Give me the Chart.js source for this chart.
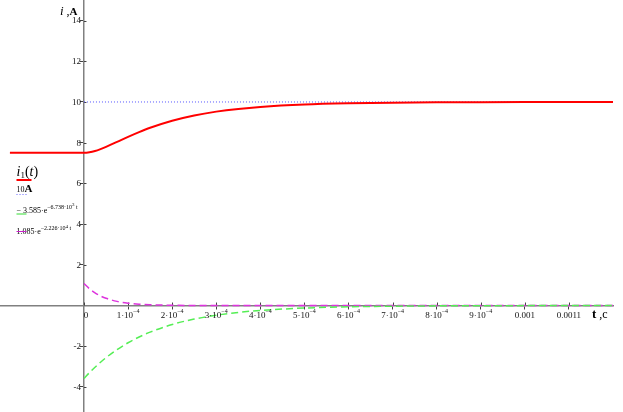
<!DOCTYPE html>
<html>
<head>
<meta charset="utf-8">
<script src="https://cdn.jsdelivr.net/npm/chart.js@4.4.1/dist/chart.umd.min.js"></script>
<style>
  body { margin: 0; background: #fff; }
  #wrap { position: relative; width: 623px; height: 412px; }
</style>
</head>
<body>
<div id="wrap"><canvas id="chart"></canvas></div>
<script>
// time, s (t >= 0)
const tValues = [0, 0.125e-4, 0.25e-4, 0.375e-4, 0.5e-4, 0.75e-4, 1e-4, 1.25e-4, 1.5e-4, 2e-4, 2.5e-4,
  3e-4, 3.5e-4, 4e-4, 5e-4, 6e-4, 7e-4, 8e-4, 9e-4, 10e-4, 11e-4, 12e-4];

// i1(t), A  (first point is before switching)
const redT = [-1.68e-4].concat(tValues);
const redValues = [7.5, 7.5, 7.527, 7.591, 7.686, 7.797, 8.041, 8.289, 8.522, 8.734, 9.081, 9.339,
  9.526, 9.661, 9.758, 9.877, 9.937, 9.968, 9.984, 9.992, 9.996, 9.998, 9.999];

// -3.585 e^(-6.738e3 t)
const greenValues = [-3.585, -3.295, -3.031, -2.785, -2.560, -2.163, -1.828, -1.545, -1.305, -0.932, -0.665,
  -0.475, -0.339, -0.242, -0.123, -0.063, -0.032, -0.016, -0.008, -0.004, -0.002, -0.001];

// 1.085 e^(-2.226e4 t)
const magentaValues = [1.085, 0.822, 0.622, 0.471, 0.357, 0.204, 0.117, 0.067, 0.0385, 0.0127, 0.0042,
  0.0014, 0.0004, 0.0001, 0, 0, 0, 0, 0, 0, 0, 0];

// steady value 10 A
const blueT = [0, 12e-4];
const blueValues = [10, 10];

const xTickValues = [0, 1e-4, 2e-4, 3e-4, 4e-4, 5e-4, 6e-4, 7e-4, 8e-4, 9e-4, 10e-4, 11e-4];
const xTickLabels = ['0', '1·10^−4', '2·10^−4', '3·10^−4', '4·10^−4', '5·10^−4', '6·10^−4',
  '7·10^−4', '8·10^−4', '9·10^−4', '0.001', '0.0011'];
const yTickValues = [-4, -2, 2, 4, 6, 8, 10, 12, 14];
const yTickLabels = ['-4', '-2', '2', '4', '6', '8', '10', '12', '14'];

const SERIF = '"Liberation Serif", "DejaVu Serif", serif';

const toPoints = (xs, ys) => xs.map((x, i) => ({ x: x, y: ys[i] }));

// draw a row of text pieces with their own font and vertical offset
function drawRuns(ctx, x, y, runs) {
  runs.forEach(r => {
    ctx.font = r.font;
    ctx.fillText(r.text, x, y + (r.dy || 0));
    x += ctx.measureText(r.text).width;
  });
  return x;
}

function runsWidth(ctx, runs) {
  let w = 0;
  runs.forEach(r => { ctx.font = r.font; w += ctx.measureText(r.text).width; });
  return w;
}

const textPlugin = {
  id: 'mathcadText',
  beforeDatasetsDraw(chart) {
    // the other half of each tick mark, so they cross the axis like in Mathcad
    const ctx = chart.ctx;
    const xs = chart.scales.x;
    const ys = chart.scales.y;
    const y0 = ys.getPixelForValue(0);
    const x0 = xs.getPixelForValue(0);
    ctx.save();
    ctx.strokeStyle = '#444';
    ctx.lineWidth = 1;
    ctx.beginPath();
    xTickValues.forEach(v => {
      const px = Math.round(xs.getPixelForValue(v)) + 0.5;
      ctx.moveTo(px, y0 - 3);
      ctx.lineTo(px, y0);
    });
    yTickValues.forEach(v => {
      const py = Math.round(ys.getPixelForValue(v)) + 0.5;
      ctx.moveTo(x0, py);
      ctx.lineTo(x0 + 2.5, py);
    });
    ctx.stroke();
    ctx.restore();
  },
  afterDraw(chart) {
    const ctx = chart.ctx;
    const xs = chart.scales.x;
    const ys = chart.scales.y;
    const y0 = ys.getPixelForValue(0);
    const x0 = xs.getPixelForValue(0);
    ctx.save();
    ctx.fillStyle = '#111';

    // y tick labels
    ctx.font = '9px ' + SERIF;
    ctx.textAlign = 'right';
    ctx.textBaseline = 'middle';
    yTickValues.forEach((v, i) => {
      ctx.fillText(yTickLabels[i], x0 - 3, ys.getPixelForValue(v) + 0.5);
    });

    // x tick labels (with superscripts)
    ctx.textAlign = 'left';
    ctx.textBaseline = 'alphabetic';
    xTickValues.forEach((v, i) => {
      const parts = xTickLabels[i].split('^');
      const runs = [{ text: parts[0], font: '9px ' + SERIF }];
      if (parts[1]) runs.push({ text: parts[1], font: '6px ' + SERIF, dy: -5 });
      const w = runsWidth(ctx, runs);
      let px = xs.getPixelForValue(v) - w / 2;
      if (v === 0) px += 2;
      drawRuns(ctx, px, y0 + 12, runs);
    });

    // axis names
    ctx.fillStyle = '#000';
    drawRuns(ctx, 60, 15, [
      { text: 'i', font: 'italic 13px ' + SERIF },
      { text: ' ,', font: '12px ' + SERIF },
      { text: 'A', font: 'bold 11px ' + SERIF }
    ]);
    drawRuns(ctx, 592, 318, [
      { text: 't', font: 'bold 13px ' + SERIF },
      { text: ' ,c', font: '12px ' + SERIF }
    ]);

    // legend on the left
    drawRuns(ctx, 16.5, 175.5, [
      { text: 'i', font: 'italic 14px ' + SERIF },
      { text: '1', font: '9px ' + SERIF, dy: 2.5 },
      { text: '(', font: '14px ' + SERIF },
      { text: 't', font: 'italic 14px ' + SERIF },
      { text: ')', font: '14px ' + SERIF }
    ]);
    drawRuns(ctx, 16.5, 192, [
      { text: '10', font: '8px ' + SERIF },
      { text: 'A', font: 'bold 11px ' + SERIF }
    ]);
    drawRuns(ctx, 16.5, 212.5, [
      { text: '− 3.585·e', font: '8px ' + SERIF },
      { text: '−6.738·10', font: '6px ' + SERIF, dy: -4 },
      { text: '3', font: '5px ' + SERIF, dy: -6.5 },
      { text: ' t', font: '6px ' + SERIF, dy: -4 }
    ]);
    drawRuns(ctx, 16.5, 234, [
      { text: '1.085·e', font: '8px ' + SERIF },
      { text: '−2.226·10', font: '6px ' + SERIF, dy: -4 },
      { text: '4', font: '5px ' + SERIF, dy: -6.5 },
      { text: ' t', font: '6px ' + SERIF, dy: -4 }
    ]);

    // legend line samples
    const sample = (y, color, width, dash, len) => {
      ctx.beginPath();
      ctx.strokeStyle = color;
      ctx.lineWidth = width;
      ctx.setLineDash(dash);
      ctx.moveTo(16.5, y);
      ctx.lineTo(16.5 + len, y);
      ctx.stroke();
    };
    sample(180, '#ff0000', 2, [], 15);
    sample(194.5, '#6666ff', 1, [1, 2], 11);
    sample(214, '#33dd33', 1, [], 10);
    sample(231.5, '#cc22cc', 1, [], 10);
    ctx.restore();
  }
};

const axisBorder = { display: true, color: '#808080', width: 1.5 };
const axisGrid = { display: true, drawOnChartArea: false, drawTicks: true, tickLength: 3, color: '#444', lineWidth: 1 };

new Chart(document.getElementById('chart'), {
  type: 'line',
  data: {
    datasets: [
      {
        label: 'i1(t)',
        data: toPoints(redT, redValues),
        borderColor: '#ff0000',
        borderWidth: 2,
        cubicInterpolationMode: 'monotone',
        pointRadius: 0
      },
      {
        label: '10A',
        data: toPoints(blueT, blueValues),
        borderColor: '#5555ff',
        borderWidth: 1,
        borderDash: [1, 2],
        pointRadius: 0
      },
      {
        label: '-3.585 e^(-6.738e3 t)',
        data: toPoints(tValues, greenValues),
        borderColor: '#55ee55',
        borderWidth: 1.5,
        borderDash: [7, 4],
        cubicInterpolationMode: 'monotone',
        pointRadius: 0
      },
      {
        label: '1.085 e^(-2.226e4 t)',
        data: toPoints(tValues, magentaValues),
        borderColor: '#dd33dd',
        borderWidth: 1.5,
        borderDash: [7, 4],
        cubicInterpolationMode: 'monotone',
        pointRadius: 0
      }
    ]
  },
  options: {
    responsive: true,
    maintainAspectRatio: false,
    animation: false,
    layout: { padding: { left: 0, top: 0, right: 10, bottom: 0 } },
    plugins: { legend: { display: false }, tooltip: { enabled: false } },
    scales: {
      x: {
        type: 'linear',
        min: -1.905e-4,
        max: 12e-4,
        position: { y: 0 },
        border: axisBorder,
        grid: axisGrid,
        ticks: { display: false },
        afterBuildTicks: scale => { scale.ticks = xTickValues.map(v => ({ value: v })); }
      },
      y: {
        type: 'linear',
        min: -5.23,
        max: 15.01,
        position: { x: 0 },
        border: axisBorder,
        grid: axisGrid,
        ticks: { display: false },
        afterBuildTicks: scale => { scale.ticks = yTickValues.map(v => ({ value: v })); }
      }
    }
  },
  plugins: [textPlugin]
});
</script>
</body>
</html>
